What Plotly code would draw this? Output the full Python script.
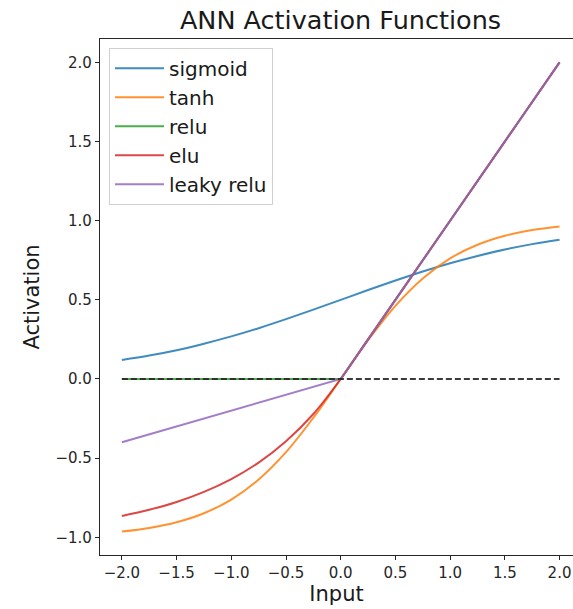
import plotly.graph_objects as go

# Sampled activation values on the input grid
inputs = [-2.0, -1.75, -1.5, -1.25, -1.0, -0.75, -0.5, -0.25, 0.0,
          0.25, 0.5, 0.75, 1.0, 1.25, 1.5, 1.75, 2.0]
sigmoid = [0.12, 0.148, 0.182, 0.223, 0.269, 0.321, 0.378, 0.438, 0.50,
           0.562, 0.622, 0.679, 0.731, 0.777, 0.818, 0.852, 0.88]
tanh = [-0.964, -0.941, -0.905, -0.848, -0.762, -0.635, -0.462, -0.245, 0.0,
        0.245, 0.462, 0.635, 0.762, 0.848, 0.905, 0.941, 0.964]
relu = [0.0, 0.0, 0.0, 0.0, 0.0, 0.0, 0.0, 0.0, 0.0,
        0.25, 0.5, 0.75, 1.0, 1.25, 1.5, 1.75, 2.0]
elu = [-0.865, -0.826, -0.777, -0.713, -0.632, -0.528, -0.393, -0.221, 0.0,
       0.25, 0.5, 0.75, 1.0, 1.25, 1.5, 1.75, 2.0]
leaky_relu = [-0.4, -0.35, -0.3, -0.25, -0.2, -0.15, -0.1, -0.05, 0.0,
              0.25, 0.5, 0.75, 1.0, 1.25, 1.5, 1.75, 2.0]
baseline_x = [-2.0, 2.0]
baseline_y = [0.0, 0.0]

series = [
    ("sigmoid", sigmoid, "#1f77b4", "spline"),
    ("tanh", tanh, "#ff7f0e", "spline"),
    ("relu", relu, "#2ca02c", "linear"),
    ("elu", elu, "#d62728", "spline"),
    ("leaky relu", leaky_relu, "#9467bd", "linear"),
]

FONT = "DejaVu Sans"

fig = go.Figure()
for name, ys, color, shape in series:
    fig.add_trace(go.Scatter(
        x=inputs, y=ys, name=name, mode="lines",
        line=dict(color=color, width=2, shape=shape),
        opacity=0.85,
    ))

fig.add_trace(go.Scatter(
    x=baseline_x, y=baseline_y, mode="lines", showlegend=False,
    line=dict(color="#262626", width=2, dash="6px,3px"),
    opacity=0.9,
))

axis_common = dict(
    showgrid=False, zeroline=False, showline=True, linecolor="#262626",
    linewidth=1.2, ticks="outside", ticklen=4, tickwidth=1, tickcolor="#262626",
    tickfont=dict(family=FONT, size=15, color="#262626"),
)

fig.update_layout(
    width=573, height=609,
    margin=dict(l=100, r=0, t=39, b=54),
    paper_bgcolor="white", plot_bgcolor="white",
    title=dict(text="ANN Activation Functions", x=340.5 / 573, xanchor="center",
               y=1 - 20 / 609, yanchor="middle",
               font=dict(family=FONT, size=25.5, color="#1a1a1a")),
    xaxis=dict(range=[-2.2, 2.123], tickvals=[-2, -1.5, -1, -0.5, 0, 0.5, 1, 1.5, 2],
               ticktext=["−2.0", "−1.5", "−1.0", "−0.5", "0.0", "0.5", "1.0", "1.5", "2.0"],
               mirror=True,
               title=dict(text="Input", font=dict(family=FONT, size=21, color="#1a1a1a"),
                          standoff=4),
               **axis_common),
    yaxis=dict(range=[-1.112, 2.148], tickvals=[-1, -0.5, 0, 0.5, 1, 1.5, 2],
               ticktext=["−1.0", "−0.5", "0.0", "0.5", "1.0", "1.5", "2.0"],
               title=dict(text="Activation", font=dict(family=FONT, size=21, color="#1a1a1a"),
                          standoff=10),
               **axis_common),
    legend=dict(x=0.019, y=0.983, xanchor="left", yanchor="top",
                itemwidth=49,
                bgcolor="rgba(255,255,255,0.8)", bordercolor="#d0d0d0", borderwidth=1,
                font=dict(family=FONT, size=20, color="#1a1a1a")),
    showlegend=True,
)

fig.write_html("out.html")
